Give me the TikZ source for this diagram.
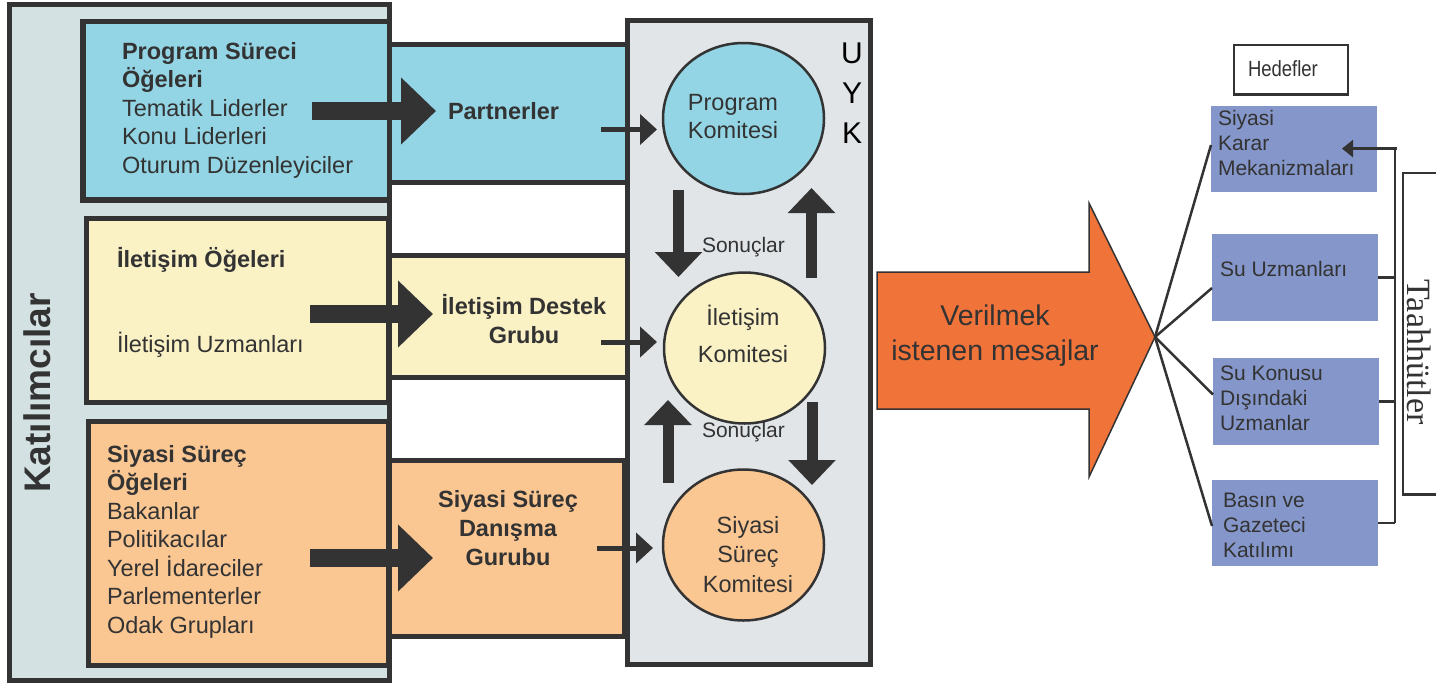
\documentclass[tikz,border=0pt]{standalone}
\usepackage{fontspec}
\setmainfont{Liberation Sans}
\newfontfamily\serifont{Liberation Serif}
\newfontfamily\narrowfont{Liberation Sans}[FakeStretch=0.84]
\usetikzlibrary{arrows.meta,shapes.geometric}
\definecolor{dk}{HTML}{333333}
\definecolor{katfill}{HTML}{D3E1E2}
\definecolor{bluef}{HTML}{93D5E4}
\definecolor{yelf}{HTML}{FAF1C5}
\definecolor{oraf}{HTML}{FAC692}
\definecolor{uykf}{HTML}{E1E5E8}
\definecolor{arrf}{HTML}{F0733A}
\definecolor{hedf}{HTML}{8597CA}
\newcommand\myfs[2]{\fontsize{#1}{#2}\selectfont}
\newcommand\Lft[1]{\begin{tabular}[t]{@{}l@{}}#1\end{tabular}}
\newcommand\Ctr[1]{\begin{tabular}[t]{@{}c@{}}#1\end{tabular}}
\begin{document}
\begin{tikzpicture}[x=1pt,y=-1pt,
  box/.style={draw=dk, line width=5pt, inner sep=0pt, outer sep=0pt, anchor=north west},
  rbox/.style={draw=none, fill=hedf, inner sep=0pt, outer sep=0pt, anchor=north west, minimum width=166pt},
  circ/.style={ellipse, draw=dk, line width=2.5pt, inner sep=0pt, outer sep=0pt, minimum width=161pt, minimum height=151pt},
  txt/.style={inner sep=0pt, outer sep=0pt, text=dk},
  bigarr/.style={draw=dk, line width=18pt, -{Triangle[length=35pt,width=65pt]}},
  smallarr/.style={draw=dk, line width=5pt, -{Triangle[length=17pt,width=30pt]}},
  varr/.style={draw=dk, line width=11pt, -{Triangle[length=25pt,width=46pt]}},
  thinl/.style={draw=dk, line width=2.5pt}
]
\useasboundingbox (0,0) rectangle (1436,683);
\fill[white] (0,0) rectangle (1436,683);

% left column
\node[box, fill=katfill, minimum width=380pt, minimum height=676pt] (kat) at (9.5,4.5) {};
\node[box, fill=bluef, line width=5.5pt, minimum width=306.5pt, minimum height=178.5pt] (ps) at (83,21.5) {};
\node[box, fill=yelf, minimum width=302pt, minimum height=184pt] (io) at (86.5,218.5) {};
\node[box, fill=oraf, minimum width=300.5pt, minimum height=244.5pt] (ss) at (88,421) {};

% middle column
\node[box, fill=bluef, minimum width=237.5pt, minimum height=138pt] (part) at (389.5,44.5) {};
\node[box, fill=yelf, minimum width=237.5pt, minimum height=122pt] (idg) at (389.5,255.5) {};
\node[box, fill=oraf, minimum width=234.5pt, minimum height=176pt] (ssd) at (389.5,460.5) {};

% UYK
\node[box, fill=uykf, minimum width=242.5pt, minimum height=644pt] (uyk) at (627.5,20.5) {};

\node[circ, fill=bluef] (pk) at (743.5,118.5) {};
\node[circ, fill=yelf] (ik) at (744.5,348) {};
\node[circ, fill=oraf] (sk) at (743.5,545) {};

% texts left
\node[txt, rotate=90, font=\bfseries\myfs{37}{44}] (katt) at (37.5,393) {Katılımcılar};
\node[txt, anchor=base west, font=\myfs{23.5}{28.5}] (pst) at (122,59)
  {\Lft{\textbf{Program Süreci}\\\smash{\textbf{Öğeleri}}\\Tematik Liderler\\Konu Liderleri\\Oturum Düzenleyiciler}};
\node[txt, anchor=base west, font=\bfseries\myfs{23.5}{28.5}] (iot) at (117,267) {İletişim Öğeleri};
\node[txt, anchor=base west, font=\myfs{23.5}{28.5}] (iob) at (117,352) {İletişim Uzmanları};
\node[txt, anchor=base west, font=\myfs{23.5}{28.5}] (sst) at (107,462)
  {\Lft{\textbf{Siyasi Süreç}\\\smash{\textbf{Öğeleri}}\\Bakanlar\\Politikacılar\\\smash{Yerel İdareciler}\\Parlementerler\\Odak Grupları}};

% texts middle
\node[txt, anchor=base west, font=\bfseries\myfs{23.5}{28.5}] (partt) at (448,119) {Partnerler};
\node[txt, anchor=base, font=\bfseries\myfs{23.5}{29}] (idgt) at (524,314) {\Ctr{İletişim Destek\\Grubu}};
\node[txt, anchor=base, font=\bfseries\myfs{23.5}{29}] (ssdt) at (508,507) {\Ctr{Siyasi Süreç\\Danışma\\Gurubu}};

% texts UYK
\node[txt, anchor=base, font=\myfs{23.5}{28}] (pkt) at (733,110) {\Ctr{Program\\Komitesi}};
\node[txt, anchor=base, font=\myfs{23.5}{37}] (ikt) at (743,325) {\Ctr{İletişim\\Komitesi}};
\node[txt, anchor=base, font=\myfs{23.5}{29.5}] (skt) at (748,533) {\Ctr{Siyasi\\Süreç\\Komitesi}};
\node[txt, anchor=base west, font=\myfs{21}{25}] (so1) at (702,252) {Sonuçlar};
\node[txt, anchor=base west, font=\myfs{21}{25}] (so2) at (702,437) {Sonuçlar};
\node[txt, anchor=base, text=black, font=\myfs{30}{40}] (uykt) at (852,63) {\Ctr{U\\Y\\K}};

% big arrows
\coordinate (a1s) at (312,111); \coordinate (a1e) at (436,111);
\coordinate (a2s) at (310,314); \coordinate (a2e) at (433,314);
\coordinate (a3s) at (310,558); \coordinate (a3e) at (433,558);
\draw[bigarr] (a1s) -- (a1e);
\draw[bigarr] (a2s) -- (a2e);
\draw[bigarr] (a3s) -- (a3e);

% small arrows
\coordinate (s1s) at (601,129.5); \coordinate (s1e) at (657,129.5);
\coordinate (s2s) at (601,342); \coordinate (s2e) at (657,342);
\coordinate (s3s) at (597,548); \coordinate (s3e) at (653,548);
\draw[smallarr] (s1s) -- (s1e);
\draw[smallarr] (s2s) -- (s2e);
\draw[smallarr] (s3s) -- (s3e);

% vertical arrows
\coordinate (v1s) at (678.5,190); \coordinate (v1e) at (678.5,277);
\coordinate (v2s) at (811.5,278); \coordinate (v2e) at (811.5,188);
\coordinate (v3s) at (668,483); \coordinate (v3e) at (668,400);
\coordinate (v4s) at (812,402); \coordinate (v4e) at (812,485);
\draw[varr] (v1s) -- (v1e);
\draw[varr] (v2s) -- (v2e);
\draw[varr] (v3s) -- (v3e);
\draw[varr] (v4s) -- (v4e);

% orange arrow
\draw[fill=arrf, draw=dk, line width=1.5pt] (877,272) -- (1089,272) -- (1089,203) -- (1155,337)
  -- (1089,477) -- (1089,409) -- (877,409) -- cycle;
\coordinate (tip) at (1155,337);
\node[txt, anchor=base, font=\myfs{28.5}{35}] (msg) at (995,325) {\Ctr{Verilmek\\istenen mesajlar}};

% right boxes
\node[rbox, minimum height=86.2pt] (hk) at (1211,105.5) {};
\node[rbox, minimum height=87pt] (su) at (1212,234) {};
\node[rbox, minimum height=87pt] (sd) at (1213,358) {};
\node[rbox, minimum height=86pt] (bg) at (1212,480) {};
\node[box, fill=white, line width=2.5pt, minimum width=114pt, minimum height=49.5pt] (hed) at (1234,45) {};
\node[txt, anchor=base west, font=\narrowfont\myfs{22}{25}] (hedt) at (1248,76) {Hedefler};

\node[txt, anchor=base west, font=\myfs{21}{25}] (hkt) at (1218,125.5) {\Lft{Siyasi\\Karar\\Mekanizmaları}};
\node[txt, anchor=base west, font=\myfs{21}{25}] (sut) at (1220,276) {Su Uzmanları};
\node[txt, anchor=base west, font=\myfs{21}{25}] (sdt) at (1220,380) {\Lft{Su Konusu\\Dışındaki\\Uzmanlar}};
\node[txt, anchor=base west, font=\myfs{21}{25}] (bgt) at (1223,507) {\Lft{Basın ve\\Gazeteci\\Katılımı}};

% lines from tip
\draw[thinl] (tip) -- ([yshift=3.6pt]hk.west);
\draw[thinl] (tip) -- ([yshift=-10.5pt]su.west);
\draw[thinl] (tip) -- ([yshift=7pt]sd.west);
\draw[thinl] (tip) -- ([yshift=-3pt]bg.west);

% bracket
\coordinate (vtop) at (1395,148.6);
\coordinate (vbot) at (1395,523);
\coordinate (hkin) at (1342,148.6);
\draw[thinl] (vtop) -- (vbot);
\draw[thinl] (su.east) -- (su.east -| vtop);
\draw[thinl] (sd.east) -- (sd.east -| vtop);
\draw[thinl] (bg.east) -- (bg.east -| vtop);
\draw[thinl, -{Triangle[length=11pt,width=17pt]}] ([xshift=2pt]vtop) -- (hkin);

% Taahhutler
\draw[thinl] (1436,173) -- (1403,173) -- (1403,494.5) -- (1436,494.5);
\node[txt, rotate=-90, font=\serifont\myfs{34}{40}] (taht) at (1419.5,352) {Taahhütler};
\end{tikzpicture}
\end{document}
